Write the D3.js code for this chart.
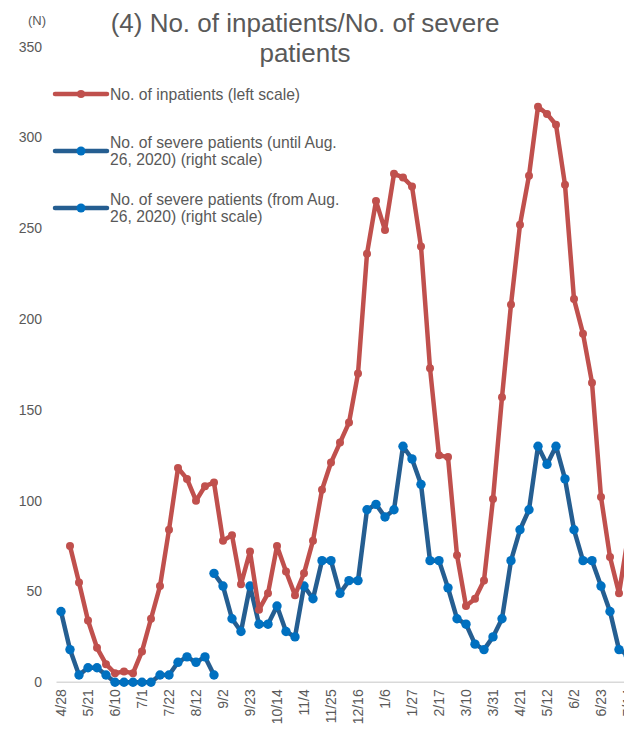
<!DOCTYPE html>
<html>
<head>
<meta charset="utf-8">
<script src="https://cdn.jsdelivr.net/npm/d3@7"></script>
<style>
  html, body { margin: 0; padding: 0; background: #fff; }
  svg { display: block; font-family: "Liberation Sans", Arial, sans-serif; }
</style>
</head>
<body>
<svg id="chart" width="624" height="731"></svg>
<script>
// ---------- data ----------
const categories = ["4/28","5/7","5/14","5/21","5/27","6/3","6/10","6/17","6/24","7/1","7/8","7/15","7/22","7/29","8/5","8/12","8/19","8/26","9/2","9/9","9/16","9/23","9/30","10/7","10/14","10/21","10/28","11/4","11/11","11/18","11/25","12/2","12/9","12/16","12/23","12/30","1/6","1/13","1/20","1/27","2/3","2/10","2/17","2/24","3/3","3/10","3/17","3/24","3/31","4/7","4/14","4/21","4/28 ","5/5","5/12","5/19","5/26","6/2","6/9","6/16","6/23","6/30","7/7","7/14"];
const tickLabels = ["4/28","5/21","6/10","7/1","7/22","8/12","9/2","9/23","10/14","11/4","11/25","12/16","1/6","1/27","2/17","3/10","3/31","4/21","5/12","6/2","6/23","7/14"];
const yTicks = [0, 50, 100, 150, 200, 250, 300, 350];

const inpatients = [null,75,55,34,19,10,5,6,5,17,35,53,84,118,112,100,108,110,78,81,54,72,40,49,75,61,48,60,78,106,121,132,143,170,236,265,249,280,278,273,240,173,125,124,70,42,46,56,101,157,208,252,279,317,313,307,274,211,192,165,102,69,49,80];
// severe patients, plotted position (until Aug. 26, 2020)
const severeUntil = [39,18,4,8,8,4,0,0,0,0,0,4,4,11,14,11,14,4];
// severe patients, plotted position (from Aug. 26, 2020), starting at 8/26
const severeFrom = [60,53,35,28,53,32,32,42,28,25,53,46,67,67,49,56,56,95,98,91,95,130,123,109,67,67,52,35,32,21,18,25,35,67,84,95,130,120,130,112,84,67,67,53,39,18,15];
const severeFromStart = 17;

const legendItems = [
  { lines: ["No. of inpatients (left scale)"], line: "#C0504D", marker: "#C0504D", r: 4 },
  { lines: ["No. of severe patients (until Aug.", "26, 2020) (right scale)"], line: "#255E91", marker: "#0070C0", r: 4.5 },
  { lines: ["No. of severe patients (from Aug.", "26, 2020) (right scale)"], line: "#255E91", marker: "#0070C0", r: 4.5 }
];

// ---------- build series ----------
const redData = inpatients.map((v, i) => ({ c: categories[i], v }));
const blue1 = severeUntil.map((v, i) => ({ c: categories[i], v }));
const blue2 = severeFrom.map((v, i) => ({ c: categories[i + severeFromStart], v }));

// ---------- scales ----------
const svg = d3.select("#chart");
const x = d3.scalePoint().domain(categories).range([61, 61 + 9 * (categories.length - 1)]);
const y = d3.scaleLinear().domain([0, 350]).range([682.3, 46.7]);
const textColor = "#595959";

// ---------- axes ----------
const shown = categories.filter((c, i) => i % 3 === 0);
const xAxis = d3.axisBottom(x).tickSize(0).tickValues(shown).tickFormat((c, i) => tickLabels[i]);
const gx = svg.append("g").attr("transform", `translate(0,${y(0)})`).call(xAxis);
gx.select(".domain").remove();
gx.selectAll("text")
  .attr("fill", textColor)
  .style("font-size", "14px")
  .attr("text-anchor", "end")
  .attr("transform", "rotate(-90)")
  .attr("x", -7)
  .attr("y", 0)
  .attr("dy", "0.35em");
svg.append("line")
  .attr("x1", 56.5).attr("x2", 624)
  .attr("y1", y(0)).attr("y2", y(0))
  .attr("stroke", "#D9D9D9").attr("stroke-width", 1.5);

const yAxis = d3.axisLeft(y).tickValues(yTicks).tickSize(0).tickPadding(0);
const gy = svg.append("g").attr("transform", "translate(42,0)").call(yAxis);
gy.select(".domain").remove();
gy.selectAll("text").attr("fill", textColor).style("font-size", "14px");

// ---------- lines ----------
const line = d3.line().defined(d => d.v != null).x(d => x(d.c)).y(d => y(d.v));

function drawSeries(data, lineColor, markerColor, r) {
  svg.append("path").datum(data)
    .attr("d", line)
    .attr("fill", "none")
    .attr("stroke", lineColor)
    .attr("stroke-width", 4.5)
    .attr("stroke-linejoin", "round")
    .attr("stroke-linecap", "round");
  svg.append("g").selectAll("circle")
    .data(data.filter(d => d.v != null))
    .join("circle")
    .attr("cx", d => x(d.c))
    .attr("cy", d => y(d.v))
    .attr("r", r)
    .attr("fill", markerColor);
}
drawSeries(blue2, "#255E91", "#0070C0", 4.7);
drawSeries(blue1, "#255E91", "#0070C0", 4.7);
drawSeries(redData, "#C0504D", "#C0504D", 4);

// ---------- title ----------
svg.append("text").attr("x", 37).attr("y", 25).attr("text-anchor", "middle")
  .attr("fill", textColor).style("font-size", "13px").text("(N)");
const title = svg.append("text").attr("text-anchor", "middle").attr("fill", textColor).style("font-size", "26px");
title.append("tspan").attr("x", 305).attr("y", 32).text("(4) No. of inpatients/No. of severe");
title.append("tspan").attr("x", 305).attr("y", 62).text("patients");

// ---------- legend ----------
const legendY = [94, 151, 208];
legendItems.forEach((item, k) => {
  const g = svg.append("g").attr("transform", `translate(0,${legendY[k]})`);
  g.append("line").attr("x1", 55).attr("x2", 107).attr("y1", 0).attr("y2", 0)
    .attr("stroke", item.line).attr("stroke-width", 4.5).attr("stroke-linecap", "round");
  g.append("circle").attr("cx", 81).attr("cy", 0).attr("r", item.r).attr("fill", item.marker);
  const t = g.append("text").attr("fill", textColor).style("font-size", "15.7px");
  const n = item.lines.length;
  item.lines.forEach((s, j) => {
    t.append("tspan").attr("x", 110).attr("y", (j - (n - 1) / 2) * 18).attr("dy", "0.35em").text(s);
  });
});
</script>
</body>
</html>
